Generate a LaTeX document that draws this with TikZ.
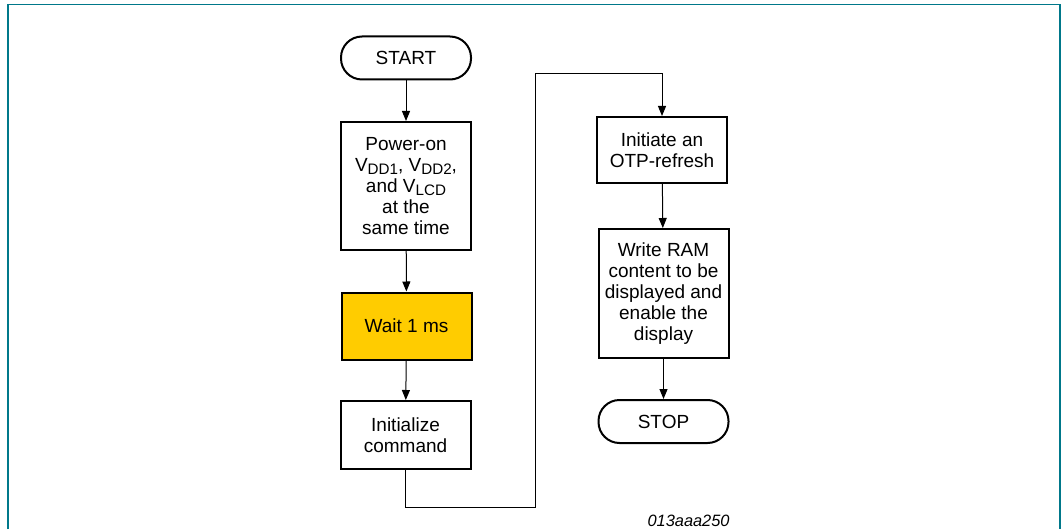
\documentclass[tikz,border=0pt]{standalone}
\usepackage{fontspec}
\setmainfont{Liberation Sans}
\usetikzlibrary{arrows.meta}
\definecolor{framecol}{HTML}{00788A}
\definecolor{waitgold}{HTML}{FFCC00}
\newcommand{\lowidx}[1]{\raisebox{-0.35ex}{\fontsize{7.6}{8}\selectfont #1}}
\tikzset{
  stepbox/.style={draw, line width=1pt, align=center, font=\fontsize{9.5}{10.5}\selectfont,
    inner sep=0pt, minimum width=65pt},
  termbox/.style={stepbox, rounded corners=10.5pt, minimum height=21.5pt},
  flow/.style={line width=0.5pt, -{Triangle[length=5pt,width=4pt]}}
}
\begin{document}
\begin{tikzpicture}[x=0.5pt,y=-0.5pt]
  \useasboundingbox (0,0) rectangle (1063,529);
  %cornice
  \draw[framecol, line width=0.8pt] (8,529) -- (8,4.5) -- (1060,4.5) -- (1060,529);

  %colonna di sinistra
  \node[termbox] (start) at (406,58) {START};
  \node[stepbox, minimum height=64pt] (power) at (406,186)
    {Power-on\\V\lowidx{DD1}, V\lowidx{DD2},\\and V\lowidx{LCD}\\at the\\same time};
  \node[stepbox, fill=waitgold, minimum height=33.5pt] (wait) at (406.5,326) {Wait 1 ms};
  \node[stepbox, minimum height=34pt] (init) at (405.5,435) {Initialize\\command};

  %colonna di destra
  \node[stepbox, minimum height=33pt] (otp) at (662,150) {Initiate an\\OTP-refresh};
  \node[stepbox, minimum height=64.5pt] (write) at (663.5,293.5)
    {Write RAM\\content to be\\displayed and\\enable the\\display};
  \node[termbox] (stop) at (663.5,421.5) {STOP};

  %frecce
  \draw[flow] (start) -- (power);
  \draw[flow] (power) -- (wait);
  \draw[flow] (wait) -- (init);
  \coordinate (low) at (405.5,507);
  \coordinate (high) at (535,74);
  \draw[flow] (init.south) -- (low) -| (high) -| (otp.north);
  \draw[flow] (otp) -- (write);
  \draw[flow] (write) -- (stop);

  \node[anchor=east, inner sep=0pt, font=\fontsize{8.2}{9}\selectfont\itshape] (code) at (730,521) {013aaa250};
\end{tikzpicture}
\end{document}
